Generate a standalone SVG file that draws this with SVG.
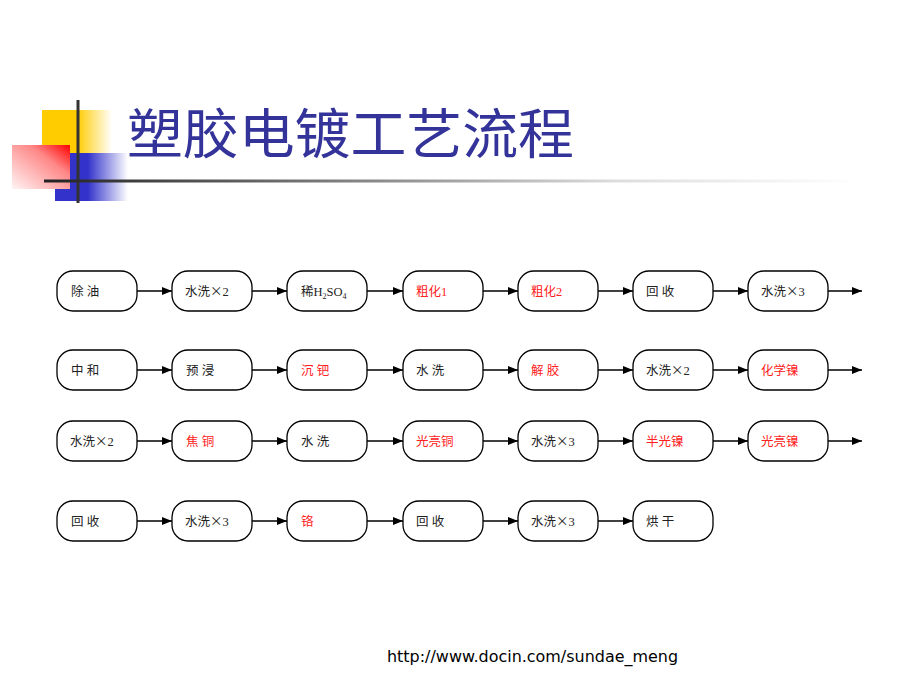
<svg xmlns="http://www.w3.org/2000/svg" width="920" height="690" viewBox="0 0 920 690">
<defs>
<linearGradient id="gY" x1="0" y1="0" x2="1" y2="0"><stop offset="0" stop-color="#FFCC00"/><stop offset="0.5" stop-color="#FFCC00"/><stop offset="1" stop-color="#FFFFFF"/></linearGradient>
<linearGradient id="gB" x1="0" y1="0" x2="1" y2="0"><stop offset="0" stop-color="#3333CC"/><stop offset="0.45" stop-color="#3333CC"/><stop offset="1" stop-color="#FFFFFF"/></linearGradient>
<linearGradient id="gR" x1="1" y1="0" x2="0" y2="1"><stop offset="0" stop-color="#FF0000"/><stop offset="0.35" stop-color="#FF8888"/><stop offset="1" stop-color="#FFF4F4"/></linearGradient>
<linearGradient id="gL" gradientUnits="userSpaceOnUse" x1="44" y1="0" x2="860" y2="0"><stop offset="0" stop-color="#222222"/><stop offset="0.4" stop-color="#888888"/><stop offset="0.7" stop-color="#DDDDDD"/><stop offset="1" stop-color="#FFFFFF"/></linearGradient>
<marker id="ah" markerWidth="10" markerHeight="8" refX="10" refY="4" orient="auto" markerUnits="userSpaceOnUse"><path d="M0,0 L10,4 L0,8 Z" fill="#000"/></marker>
</defs>
<style>
.n rect{fill:#fff;stroke:#000;stroke-width:1.3}
.n text{font-family:"Liberation Serif","Noto Sans CJK SC",serif;font-size:12.5px;fill:#222}
.n text.r{fill:#FF2020}
.x{font-family:"Noto Sans CJK SC",sans-serif}
#connectors line{stroke:#000;stroke-width:1.3;marker-end:url(#ah)}
.title{font-family:"Liberation Serif","Noto Sans CJK SC",serif;font-size:54px;fill:#333399}
.url{font-family:"DejaVu Sans",sans-serif;font-size:16px;fill:#000}
</style>
<g id="decor">
<rect x="42" y="110" width="70" height="43" fill="url(#gY)"/>
<rect x="55" y="153" width="73" height="48" fill="url(#gB)"/>
<rect x="12" y="145" width="58" height="44" fill="url(#gR)"/>
<line x1="78" y1="100" x2="78" y2="203" stroke="#333" stroke-width="3"/>
<rect x="44" y="179.5" width="816" height="3" fill="url(#gL)"/>
</g>
<text class="title" x="127" y="154" textLength="447" lengthAdjust="spacingAndGlyphs">塑胶电镀工艺流程</text>
<g id="connectors">
<line x1="137" y1="291" x2="172" y2="291"/><line x1="252" y1="291" x2="287" y2="291"/><line x1="367" y1="291" x2="403" y2="291"/><line x1="483" y1="291" x2="518" y2="291"/><line x1="598" y1="291" x2="633" y2="291"/><line x1="713" y1="291" x2="748" y2="291"/><line x1="828" y1="291" x2="862" y2="291"/>
<line x1="137" y1="370" x2="172" y2="370"/><line x1="252" y1="370" x2="287" y2="370"/><line x1="367" y1="370" x2="403" y2="370"/><line x1="483" y1="370" x2="518" y2="370"/><line x1="598" y1="370" x2="633" y2="370"/><line x1="713" y1="370" x2="748" y2="370"/><line x1="828" y1="370" x2="862" y2="370"/>
<line x1="137" y1="441" x2="172" y2="441"/><line x1="252" y1="441" x2="287" y2="441"/><line x1="367" y1="441" x2="403" y2="441"/><line x1="483" y1="441" x2="518" y2="441"/><line x1="598" y1="441" x2="633" y2="441"/><line x1="713" y1="441" x2="748" y2="441"/><line x1="828" y1="441" x2="862" y2="441"/>
<line x1="137" y1="521" x2="172" y2="521"/><line x1="252" y1="521" x2="287" y2="521"/><line x1="367" y1="521" x2="403" y2="521"/><line x1="483" y1="521" x2="518" y2="521"/><line x1="598" y1="521" x2="633" y2="521"/>
</g>
<g id="r1n1" class="n"><rect x="57" y="271" width="80" height="40" rx="16"/><text x="71" y="296">除 油</text></g>
<g id="r1n2" class="n"><rect x="172" y="271" width="80" height="40" rx="16"/><text x="185" y="296">水洗<tspan class="x">×</tspan>2</text></g>
<g id="r1n3" class="n"><rect x="287" y="271" width="80" height="40" rx="16"/><text x="301" y="296">稀H<tspan font-size="8" dy="3">2</tspan><tspan dy="-3">SO</tspan><tspan font-size="8" dy="3">4</tspan></text></g>
<g id="r1n4" class="n"><rect x="403" y="271" width="80" height="40" rx="16"/><text class="r" x="416" y="296">粗化1</text></g>
<g id="r1n5" class="n"><rect x="518" y="271" width="80" height="40" rx="16"/><text class="r" x="531" y="296">粗化2</text></g>
<g id="r1n6" class="n"><rect x="633" y="271" width="80" height="40" rx="16"/><text x="646" y="296">回 收</text></g>
<g id="r1n7" class="n"><rect x="748" y="271" width="80" height="40" rx="16"/><text x="761" y="296">水洗<tspan class="x">×</tspan>3</text></g>
<g id="r2n1" class="n"><rect x="57" y="350" width="80" height="40" rx="16"/><text x="71" y="375">中 和</text></g>
<g id="r2n2" class="n"><rect x="172" y="350" width="80" height="40" rx="16"/><text x="186" y="375">预 浸</text></g>
<g id="r2n3" class="n"><rect x="287" y="350" width="80" height="40" rx="16"/><text class="r" x="301" y="375">沉 钯</text></g>
<g id="r2n4" class="n"><rect x="403" y="350" width="80" height="40" rx="16"/><text x="416" y="375">水 洗</text></g>
<g id="r2n5" class="n"><rect x="518" y="350" width="80" height="40" rx="16"/><text class="r" x="531" y="375">解 胶</text></g>
<g id="r2n6" class="n"><rect x="633" y="350" width="80" height="40" rx="16"/><text x="646" y="375">水洗<tspan class="x">×</tspan>2</text></g>
<g id="r2n7" class="n"><rect x="748" y="350" width="80" height="40" rx="16"/><text class="r" x="761" y="375">化学镍</text></g>
<g id="r3n1" class="n"><rect x="57" y="421" width="80" height="40" rx="16"/><text x="70" y="446">水洗<tspan class="x">×</tspan>2</text></g>
<g id="r3n2" class="n"><rect x="172" y="421" width="80" height="40" rx="16"/><text class="r" x="186" y="446">焦 铜</text></g>
<g id="r3n3" class="n"><rect x="287" y="421" width="80" height="40" rx="16"/><text x="301" y="446">水 洗</text></g>
<g id="r3n4" class="n"><rect x="403" y="421" width="80" height="40" rx="16"/><text class="r" x="416" y="446">光亮铜</text></g>
<g id="r3n5" class="n"><rect x="518" y="421" width="80" height="40" rx="16"/><text x="531" y="446">水洗<tspan class="x">×</tspan>3</text></g>
<g id="r3n6" class="n"><rect x="633" y="421" width="80" height="40" rx="16"/><text class="r" x="646" y="446">半光镍</text></g>
<g id="r3n7" class="n"><rect x="748" y="421" width="80" height="40" rx="16"/><text class="r" x="761" y="446">光亮镍</text></g>
<g id="r4n1" class="n"><rect x="57" y="501" width="80" height="40" rx="16"/><text x="71" y="526">回 收</text></g>
<g id="r4n2" class="n"><rect x="172" y="501" width="80" height="40" rx="16"/><text x="185" y="526">水洗<tspan class="x">×</tspan>3</text></g>
<g id="r4n3" class="n"><rect x="287" y="501" width="80" height="40" rx="16"/><text class="r" x="301" y="526">铬</text></g>
<g id="r4n4" class="n"><rect x="403" y="501" width="80" height="40" rx="16"/><text x="416" y="526">回 收</text></g>
<g id="r4n5" class="n"><rect x="518" y="501" width="80" height="40" rx="16"/><text x="531" y="526">水洗<tspan class="x">×</tspan>3</text></g>
<g id="r4n6" class="n"><rect x="633" y="501" width="80" height="40" rx="16"/><text x="646" y="526">烘 干</text></g>
<text class="url" x="387" y="662" textLength="291" lengthAdjust="spacingAndGlyphs">http://www.docin.com/sundae_meng</text>
</svg>
